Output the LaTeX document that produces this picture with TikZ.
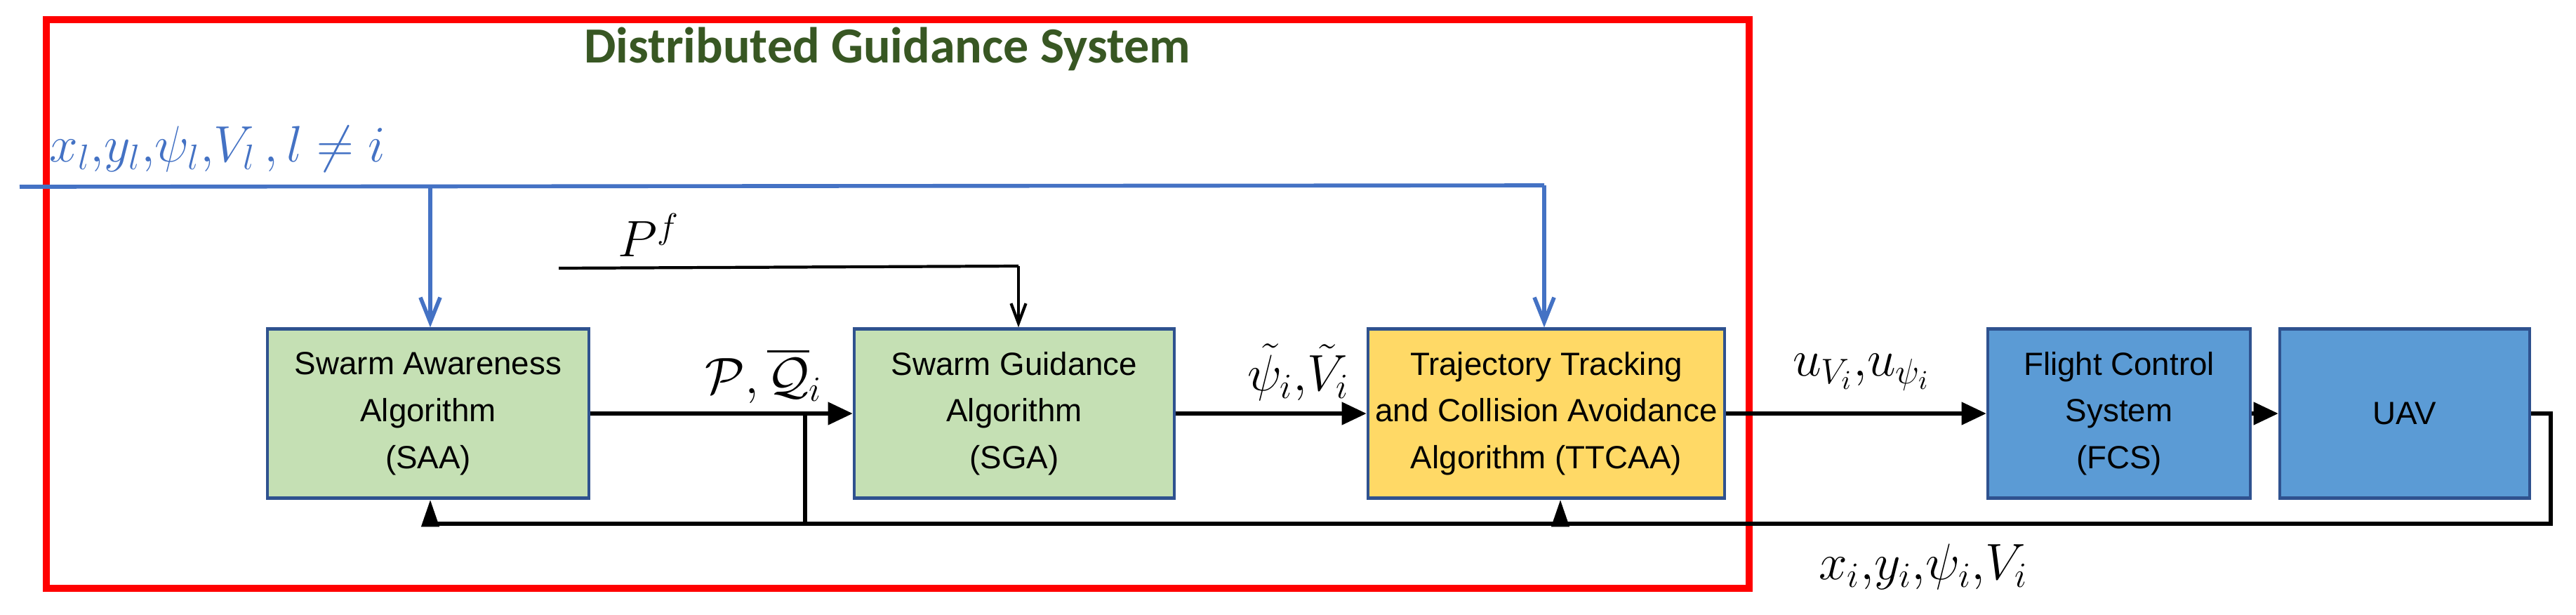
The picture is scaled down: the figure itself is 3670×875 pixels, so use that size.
\documentclass[tikz,border=0pt]{standalone}
\usepackage{amsmath}
\usepackage{fontspec}
\setmainfont{Liberation Sans}
\newfontfamily\titlefont{Carlito}
\usetikzlibrary{arrows.meta,positioning}
\definecolor{boxgreen}{RGB}{197,224,180}
\definecolor{boxyellow}{RGB}{255,217,102}
\definecolor{boxblue}{RGB}{91,155,213}
\definecolor{edgeblue}{RGB}{47,82,143}
\definecolor{sigblue}{RGB}{68,114,196}
\definecolor{titlegreen}{RGB}{56,87,35}
\begin{document}
\begin{tikzpicture}[x=0.01cm,y=-0.01cm,
  blk/.style={draw=edgeblue,line width=1.2pt,rectangle,align=center,font=\fontsize{13}{19}\selectfont,inner sep=0pt},
  sig/.style={line width=1.6pt,-{Triangle[length=10pt,width=9pt]}},
  fb/.style={line width=1.6pt,-{Triangle[length=11pt,width=7pt]}},
  lbl/.style={font=\fontsize{22}{26}\selectfont,inner sep=0pt}]

  \useasboundingbox (0,0) rectangle (3670,875);
  \draw[red,line width=3pt] (66,28) rectangle (2492,838);
  \node[font=\titlefont\bfseries\fontsize{20.5}{22}\selectfont,text=titlegreen] at (1264,70) (title) {Distributed Guidance System};

  \node[blk,fill=boxgreen,minimum width=4.57cm,minimum height=2.41cm] at (610,589) (saa) {Swarm Awareness\\Algorithm\\(SAA)};
  \node[blk,fill=boxgreen,minimum width=4.56cm,minimum height=2.41cm] at (1445,589) (sga) {Swarm Guidance\\Algorithm\\(SGA)};
  \node[blk,fill=boxyellow,minimum width=5.08cm,minimum height=2.41cm] at (2203,589) (ttcaa) {Trajectory Tracking\\and Collision Avoidance\\Algorithm (TTCAA)};
  \node[blk,fill=boxblue,minimum width=3.74cm,minimum height=2.41cm] at (3019,589) (fcs) {Flight Control\\System\\(FCS)};
  \node[blk,fill=boxblue,minimum width=3.56cm,minimum height=2.41cm] at (3426,589) (uav) {UAV};

  % neighbour states
  \coordinate (nin) at (28,266);
  \coordinate (nsaa) at (613,264);
  \coordinate (ntt) at (2200,264);
  \draw[sigblue,line width=1.6pt] (nin) -- (ntt);
  \draw[sigblue,line width=1.6pt,-{Straight Barb[length=10pt,width=8pt]}] (nsaa) -- (saa.north -| nsaa);
  \draw[sigblue,line width=1.6pt,-{Straight Barb[length=10pt,width=8pt]}] (ntt) -- (ttcaa.north -| ntt);
  \node[lbl,text=sigblue,anchor=west] at (70,212) (nlbl) {$x_l,\!y_l,\!\psi_l,\!V_l\,,l\neq i$};

  % formation input
  \coordinate (pf) at (796,382);
  \coordinate (pfc) at (1451,379);
  \draw[line width=1.2pt] (pf) -- (pfc);
  \draw[line width=1.2pt,-{Straight Barb[length=8pt,width=6pt]}] (pfc) -- (sga.north -| pfc);
  \node[lbl] at (924,335) (pflbl) {$P^f$};

  % forward path
  \draw[sig] (saa) -- (sga);
  \draw[sig] (sga) -- (ttcaa);
  \draw[sig] (ttcaa) -- (fcs);
  \draw[sig] (fcs) -- (uav);
  \node[lbl] at (1088,535) (qlbl) {$\mathcal{P},\overline{\mathcal{Q}}_i$};
  \node[lbl] at (1850,530) (vlbl) {$\tilde{\psi}_i,\!\tilde{V}_i$};
  \node[lbl] at (2652,530) (ulbl) {$u_{V_i},\!u_{\psi_i}$};

  % feedback
  \coordinate (br) at (1147,589);
  \coordinate (fbr) at (3634,746);
  \coordinate (fbl) at (613,746);
  \coordinate (ftt) at (2223,746);
  \draw[line width=1.6pt] (uav.east) -| (fbr) -- (fbl);
  \draw[line width=1.6pt] (br) -- (br |- fbl);
  \draw[fb] (fbl) -- (saa.south -| fbl);
  \draw[fb] (ftt) -- (ttcaa.south -| ftt);
  \node[lbl] at (2740,807) (slbl) {$x_i,\!y_i,\!\psi_i,\!V_i$};
\end{tikzpicture}
\end{document}
